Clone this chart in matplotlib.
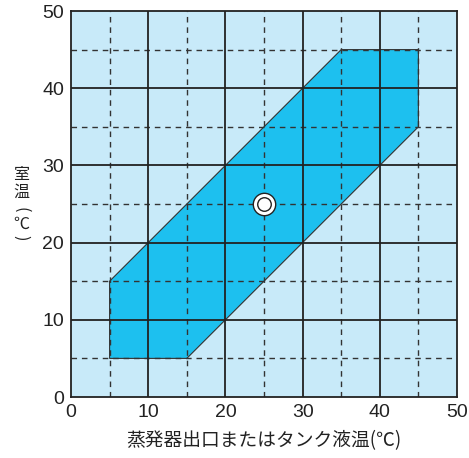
import matplotlib.pyplot as plt
from matplotlib.patches import Polygon

plt.rcParams['font.family'] = ['Noto Sans CJK JP', 'DejaVu Sans']

# 運転範囲の頂点 (蒸発器出口温度, 室温)
range_x = [5, 15, 45, 45, 35, 5]
range_y = [5, 5, 35, 45, 45, 15]
# 定格点
point_x = [25]
point_y = [25]
ticks = [0, 10, 20, 30, 40, 50]
minor = [5, 15, 25, 35, 45]

fig = plt.figure(figsize=(4.69, 4.58), dpi=100)
ax = fig.add_axes([71/469, 61/458, 386/469, 386/458])
ax.set_facecolor('#c8eaf9')

poly = Polygon(list(zip(range_x, range_y)), closed=True, facecolor='#1dc0ef',
               edgecolor='#333333', linewidth=0.8, zorder=1)
ax.add_patch(poly)

for v in minor:
    ax.axvline(v, color='#333333', lw=1.0, ls=(0, (4, 3.5)), zorder=2)
    ax.axhline(v, color='#333333', lw=1.0, ls=(0, (4, 3.5)), zorder=2)
for v in ticks[1:-1]:
    ax.axvline(v, color='#222222', lw=1.3, zorder=2)
    ax.axhline(v, color='#222222', lw=1.3, zorder=2)

ax.scatter(point_x, point_y, s=260, facecolor='white', edgecolor='#222222', linewidths=1.0, zorder=4)
ax.scatter(point_x, point_y, s=95, facecolor='white', edgecolor='#222222', linewidths=1.0, zorder=5)

ax.set_xlim(0, 50)
ax.set_ylim(0, 50)
ax.set_xticks(ticks)
ax.set_yticks(ticks)
ax.tick_params(length=0, labelsize=14, colors='#222222', pad=5)
for lab in ax.get_xticklabels() + ax.get_yticklabels():
    lab.set_family('Liberation Sans')
for s in ax.spines.values():
    s.set_color('#222222')
    s.set_linewidth(1.3)

fig.text(0.5 * (71 + 457) / 469, 1 - 441/458, '蒸発器出口またはタンク液温(℃)',
         ha='center', va='center', fontsize=13.5, color='#222222')

# 縦書きの軸ラベル
ylab = [('室', 175, 0), ('温', 192, 0), ('(', 210, -90), ('℃', 224, 0), (')', 238, -90)]
for ch, yy, rot in ylab:
    fig.text(21/469, 1 - yy/458, ch, ha='center', va='center', fontsize=11.5,
             color='#222222', rotation=rot)

fig.savefig('out.png', dpi=100)
